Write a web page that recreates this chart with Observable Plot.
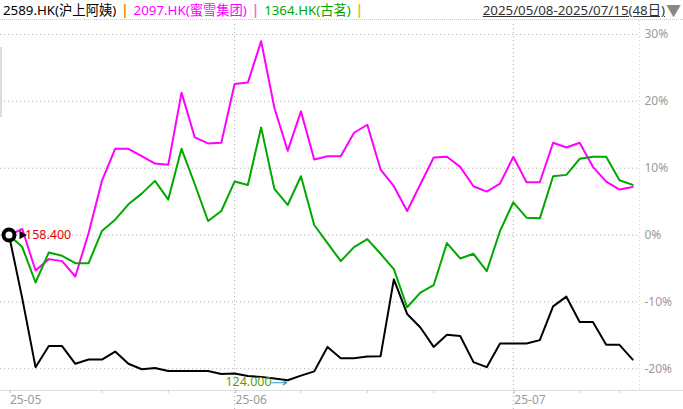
<!DOCTYPE html>
<html><head><meta charset="utf-8">
<script src="https://cdn.jsdelivr.net/npm/d3@7"></script>
<script src="https://cdn.jsdelivr.net/npm/@observablehq/plot@0.6"></script>
<style>
body{margin:0;background:#fff;width:683px;height:409px;overflow:hidden;font-family:"Noto Sans","Noto Sans CJK SC",sans-serif;position:relative;}
#head{height:19px;border-bottom:1px dotted #ccc;display:flex;align-items:center;font-size:13.3px;white-space:nowrap;}
#head .sep{margin:0 5px;font-weight:bold;}
#range{margin-left:auto;color:#333;text-decoration:underline;}
#tri{color:#888;font-size:15px;margin:0 2px 0 1px;}
#bar{position:absolute;left:0;top:47px;width:2px;height:70px;background:#ddd;}
svg{display:block;}
</style></head>
<body>
<div id="head"></div>
<div id="chart"></div>
<div id="bar"></div>
<script>
// trading days 2025/05/08 - 2025/07/15 (48)
const dates = ["05-08","05-09","05-12","05-13","05-14","05-15","05-16","05-19","05-20","05-21","05-22","05-23","05-26","05-27","05-28","05-29","05-30",
"06-02","06-03","06-04","06-05","06-06","06-09","06-10","06-11","06-12","06-13","06-16","06-17","06-18","06-19","06-20","06-23","06-24","06-25","06-26","06-27","06-30",
"07-02","07-03","07-04","07-07","07-08","07-09","07-10","07-11","07-14","07-15"];
const seriesNames = ["2589.HK(沪上阿姨)","2097.HK(蜜雪集团)","1364.HK(古茗)"];
const seriesColors = ["#000000","#ff00ff","#00a800"];
const sepColors = ["#ff8000","#ff66cc","#e6c300"];
// 2589.HK close price
const price2589 = [158.4,143.4,127.1,132.1,132.1,127.9,128.9,128.9,130.8,127.9,126.6,126.9,126.2,126.2,126.2,126.2,125.5,125.6,125.0,124.8,124.4,124.0,125.1,126.1,131.9,129.2,129.2,129.6,129.7,147.9,139.7,136.5,131.9,134.8,134.5,128.3,127.1,132.7,132.7,132.7,133.5,141.5,143.8,137.8,137.8,132.4,132.4,128.9];
// % change vs first day
const pct2097 = [0,0.9,-5.3,-3.6,-3.9,-6.2,0.3,8.1,12.9,12.9,11.8,10.7,10.5,21.3,14.6,13.7,13.8,22.6,22.8,29.0,19.0,12.6,18.5,11.3,11.8,11.8,15.3,16.5,9.8,7.3,3.6,7.6,11.6,11.7,10.2,7.3,6.5,7.7,11.7,7.9,7.9,13.8,13.1,13.8,10.2,8.0,6.8,7.2];
const pct1364 = [0,-1.8,-7.1,-2.6,-3.1,-4.2,-4.2,0.6,2.3,4.6,6.2,8.1,5.3,12.9,7.6,2.1,3.6,8.0,7.5,16.1,6.9,4.5,8.8,1.5,-1.2,-3.9,-1.8,-0.6,-2.8,-5.1,-10.8,-8.6,-7.5,-1.2,-3.5,-2.8,-5.4,0.6,4.9,2.6,2.5,8.8,9.0,11.4,11.7,11.7,8.2,7.5];
const yTicks = [-20,-10,0,10,20,30];
const xLabelIdx = [0,17,38];
const xLabels = ["25-05","25-06","25-07"];
const minorIdx = [7,12,22,27,32,43,46];
const rangeText = "2025/05/08-2025/07/15(48日)";

// header
const head = document.getElementById("head");
let html = '<span style="width:3px;display:inline-block"></span>';
seriesNames.forEach((n,k)=>{
  html += `<span style="color:${seriesColors[k]}">${n}</span><span class="sep" style="color:${sepColors[k]}">|</span>`;
});
html += `<span id="range">${rangeText}</span><span id="tri">▼</span>`;
head.innerHTML = html;

const base = price2589[0];
const rows = [];
price2589.forEach((p,i)=>rows.push({i, s:"2589", v:(p/base-1)*100}));
pct2097.forEach((v,i)=>rows.push({i, s:"2097", v}));
pct1364.forEach((v,i)=>rows.push({i, s:"1364", v}));

const minP = d3.min(price2589);
const minI = price2589.indexOf(minP);
const minPct = (minP/base-1)*100;

const xDomain = [-0.64, 47.51];
const yDomain = [-23.25, 32.09];
const pxPerX = 639/(xDomain[1]-xDomain[0]);
const pxPerY = 370/(yDomain[1]-yDomain[0]);

const chart = Plot.plot({
  width:683, height:389,
  marginLeft:0, marginRight:44, marginTop:0, marginBottom:19,
  x:{type:"linear", domain:xDomain, axis:null, label:null},
  y:{domain:yDomain, axis:null, label:null},
  style:{fontFamily:'"Noto Sans","Noto Sans CJK SC",sans-serif', background:"#fff", overflow:"visible"},
  marks:[
    Plot.ruleY(yTicks, {stroke:"#b4b4b4", strokeDasharray:"1.2,2.8"}),
    Plot.ruleX(xLabelIdx.slice(1), {y1:yDomain[1]-4/pxPerY, y2:yDomain[0]-19/pxPerY, stroke:"#b4b4b4", strokeDasharray:"1.2,2.8"}),
    Plot.ruleX([xDomain[1]], {y1:yDomain[1], y2:yDomain[0], stroke:"#d8d8d8", strokeDasharray:"1.2,2.8"}),
    Plot.ruleY([yDomain[0]], {x1:xDomain[0], x2:xDomain[1]+44/pxPerX, stroke:"#dddddd"}),
    Plot.axisX(minorIdx, {tickSize:3, tickFormat:()=>"", label:null, stroke:"#cccccc"}),
    Plot.axisX(xLabelIdx, {tickSize:3, tickPadding:2, label:null, tickFormat:(d)=>xLabels[xLabelIdx.indexOf(d)], textAnchor:"start", dx:1, fill:"#9a9a9a", stroke:"#bbbbbb", fontSize:12}),
    Plot.axisY(yTicks, {anchor:"right", tickSize:0, tickPadding:5, label:null, tickFormat:d=>d+"%", fill:"#9a9a9a", fontSize:12}),
    Plot.line(rows.filter(d=>d.s==="2097"), {x:"i", y:"v", stroke:seriesColors[1], strokeWidth:2}),
    Plot.line(rows.filter(d=>d.s==="1364"), {x:"i", y:"v", stroke:seriesColors[2], strokeWidth:2}),
    Plot.line(rows.filter(d=>d.s==="2589"), {x:"i", y:"v", stroke:seriesColors[0], strokeWidth:2}),
    Plot.dot([{i:0, v:0}], {x:"i", y:"v", r:5.5, stroke:"#000", strokeWidth:4, fill:"#fff"}),
    Plot.dot([{i:0, v:0}], {x:"i", y:"v", r:3.2, symbol:"triangle", rotate:90, fill:"#000", dx:13}),
    Plot.text([{i:0, v:0}], {x:"i", y:"v", text:()=>base.toFixed(3), dx:16, textAnchor:"start", fill:"#e60000", fontSize:12.5}),
    Plot.arrow([{i:minI, v:minPct}], {x1:d=>d.i-16/pxPerX, x2:d=>d.i-1/pxPerX, y1:"v", y2:"v", dy:2.5, stroke:"#3399cc", strokeWidth:1.2, headLength:5}),
    Plot.text([{i:minI, v:minPct}], {x:"i", y:"v", text:()=>minP.toFixed(3), dx:-16, dy:2, textAnchor:"end", fill:"#5f9e00", fontSize:12.5})
  ]
});
document.getElementById("chart").appendChild(chart);
</script>
</body></html>
